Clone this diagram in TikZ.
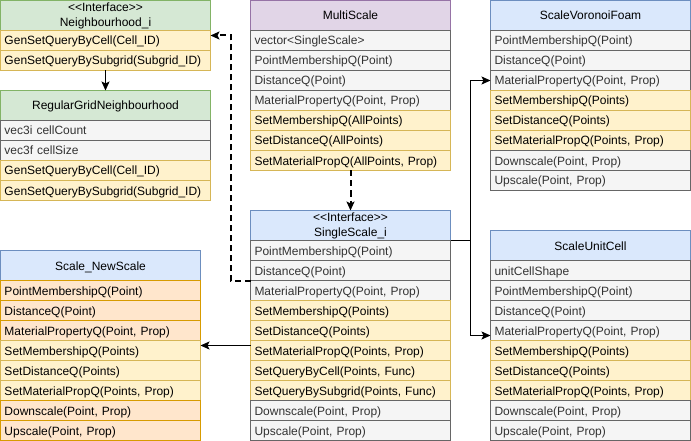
\documentclass[tikz,border=0pt]{standalone}
\usepackage{fontspec}
\setmainfont{Liberation Sans}[Ligatures=TeXOff]
\usetikzlibrary{arrows.meta, calc}

\definecolor{grayfill}{HTML}{F5F5F5}
\definecolor{graydraw}{HTML}{666666}
\definecolor{graytext}{HTML}{333333}
\definecolor{yelfill}{HTML}{FFF2CC}
\definecolor{yeldraw}{HTML}{D6B656}
\definecolor{orgfill}{HTML}{FFE6CC}
\definecolor{orgdraw}{HTML}{D79B00}
\definecolor{grnfill}{HTML}{D5E8D4}
\definecolor{grndraw}{HTML}{82B366}
\definecolor{purfill}{HTML}{E1D5E7}
\definecolor{purdraw}{HTML}{9673A6}
\definecolor{blufill}{HTML}{DAE8FC}
\definecolor{bludraw}{HTML}{6C8EBF}

\begin{document}
\begin{tikzpicture}[x=1pt, y=-1pt, font=\fontsize{12pt}{15pt}\selectfont,
        box/.style={draw, line width=1pt, anchor=north west, inner xsep=4pt, inner ysep=0pt, outer sep=0pt},
        hdr/.style={box, minimum width=200pt, minimum height=30pt, align=center},
        oneline/.style={text height=9pt, text depth=0pt},
        row/.style={box, oneline, text width=192pt, minimum height=20pt, align=left},
        grayrow/.style={row, fill=grayfill, draw=graydraw, text=graytext},
        yelrow/.style={row, fill=yelfill, draw=yeldraw},
        orgrow/.style={row, fill=orgfill, draw=orgdraw},
        link/.style={line width=1pt, -{Stealth[length=9pt, width=8pt, inset=2pt]}},
        dlink/.style={link, line width=2pt, dash pattern=on 6pt off 4pt}]
    \useasboundingbox (0,0) rectangle (691,441);

    % neighbourhood classes
    \node [hdr, fill=grnfill, draw=grndraw, minimum width=210pt] (nbi) at (0.5,0.5) {<<Interface>>\\Neighbourhood\_i};
    \foreach \s/\t [count=\i] in {yelrow/{GenSetQueryByCell(Cell\_ID)}, yelrow/{GenSetQueryBySubgrid(Subgrid\_ID)}}
        \node [\s, text width=202pt] (nbi-\i) at (0.5,10.5+20*\i) {\t};

    \node [hdr, oneline, fill=grnfill, draw=grndraw, minimum width=210pt] (rgn) at (0.5,90.5) {RegularGridNeighbourhood};
    \foreach \s/\t [count=\i] in {grayrow/{vec3i cellCount}, grayrow/{vec3f cellSize},
            yelrow/{GenSetQueryByCell(Cell\_ID)}, yelrow/{GenSetQueryBySubgrid(Subgrid\_ID)}}
        \node [\s, text width=202pt] (rgn-\i) at (0.5,100.5+20*\i) {\t};

    % multi scale
    \node [hdr, oneline, fill=purfill, draw=purdraw] (ms) at (250.5,0.5) {MultiScale};
    \foreach \s/\t [count=\i] in {grayrow/{vector<SingleScale>}, grayrow/{PointMembershipQ(Point)}, grayrow/{DistanceQ(Point)},
            grayrow/{MaterialPropertyQ(Point, Prop)}, yelrow/{SetMembershipQ(AllPoints)}, yelrow/{SetDistanceQ(AllPoints)},
            yelrow/{SetMaterialPropQ(AllPoints, Prop)}}
        \node [\s] (ms-\i) at (250.5,10.5+20*\i) {\t};

    % single scale interface
    \node [hdr, fill=blufill, draw=bludraw] (ssi) at (250.5,210.5) {<<Interface>>\\SingleScale\_i};
    \foreach \s/\t [count=\i] in {grayrow/{PointMembershipQ(Point)}, grayrow/{DistanceQ(Point)}, grayrow/{MaterialPropertyQ(Point, Prop)},
            yelrow/{SetMembershipQ(Points)}, yelrow/{SetDistanceQ(Points)}, yelrow/{SetMaterialPropQ(Points, Prop)},
            yelrow/{SetQueryByCell(Points, Func)}, yelrow/{SetQueryBySubgrid(Points, Func)},
            grayrow/{Downscale(Point, Prop)}, grayrow/{Upscale(Point, Prop)}}
        \node [\s] (ssi-\i) at (250.5,220.5+20*\i) {\t};

    % implementations
    \node [hdr, oneline, fill=blufill, draw=bludraw] (svf) at (490.5,0.5) {ScaleVoronoiFoam};
    \foreach \s/\t [count=\i] in {grayrow/{PointMembershipQ(Point)}, grayrow/{DistanceQ(Point)}, grayrow/{MaterialPropertyQ(Point, Prop)},
            yelrow/{SetMembershipQ(Points)}, yelrow/{SetDistanceQ(Points)}, yelrow/{SetMaterialPropQ(Points, Prop)},
            grayrow/{Downscale(Point, Prop)}, grayrow/{Upscale(Point, Prop)}}
        \node [\s] (svf-\i) at (490.5,10.5+20*\i) {\t};

    \node [hdr, oneline, fill=blufill, draw=bludraw] (suc) at (490.5,230.5) {ScaleUnitCell};
    \foreach \s/\t [count=\i] in {grayrow/{unitCellShape}, grayrow/{PointMembershipQ(Point)}, grayrow/{DistanceQ(Point)},
            grayrow/{MaterialPropertyQ(Point, Prop)}, yelrow/{SetMembershipQ(Points)}, yelrow/{SetDistanceQ(Points)},
            yelrow/{SetMaterialPropQ(Points, Prop)}, grayrow/{Downscale(Point, Prop)}, grayrow/{Upscale(Point, Prop)}}
        \node [\s] (suc-\i) at (490.5,240.5+20*\i) {\t};

    \node [hdr, oneline, fill=blufill, draw=bludraw] (sns) at (0.5,250.5) {Scale\_NewScale};
    \foreach \s/\t [count=\i] in {orgrow/{PointMembershipQ(Point)}, orgrow/{DistanceQ(Point)}, orgrow/{MaterialPropertyQ(Point, Prop)},
            yelrow/{SetMembershipQ(Points)}, yelrow/{SetDistanceQ(Points)}, yelrow/{SetMaterialPropQ(Points, Prop)},
            orgrow/{Downscale(Point, Prop)}, orgrow/{Upscale(Point, Prop)}}
        \node [\s] (sns-\i) at (0.5,260.5+20*\i) {\t};

    % connectors
    \coordinate (nbi-in) at ($(nbi.north east)!0.5!(nbi-2.south east)$);
    \coordinate (suc-in) at ($(suc.north west)!0.5!(suc-9.south west)$);
    \coordinate (sns-in) at ($(sns.north east)!0.5!(sns-8.south east)$);

    \draw [link] (nbi-2.south) -- (rgn.north);
    \draw [dlink] (ms-7.south) -- (ssi.north);
    \draw [dlink] (ssi-2.south west) -- ++(-20,0) |- (nbi-in);
    \draw [link] (ssi.south east) -- ++(20,0) |- (svf-3.west);
    \draw [link] (ssi.south east) -- ++(20,0) |- (suc-in);
    \draw [link] (ssi.west |- sns-in) -- (sns-in);
\end{tikzpicture}
\end{document}
